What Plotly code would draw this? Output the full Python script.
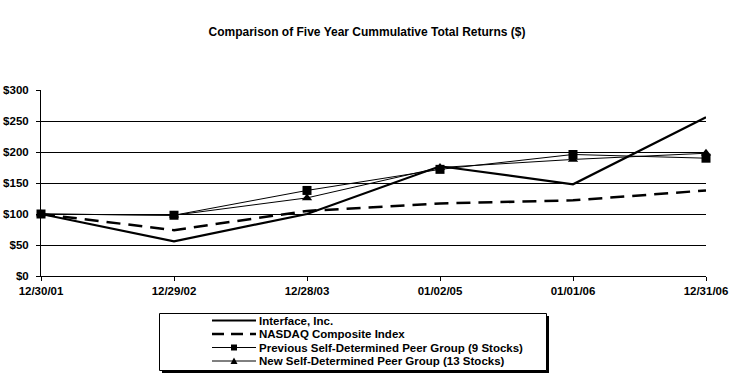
import plotly.graph_objects as go

dates = ["12/30/01", "12/29/02", "12/28/03", "01/02/05", "01/01/06", "12/31/06"]
interface = [100, 56, 100, 177, 148, 256]
nasdaq = [100, 74, 105, 117, 122, 138]
peer9 = [100, 98, 138, 172, 196, 190]
peer13 = [100, 98, 126, 175, 188, 198]
series_names = [
    "Interface, Inc.",
    "NASDAQ Composite Index",
    "Previous Self-Determined Peer Group (9 Stocks)",
    "New Self-Determined Peer Group (13 Stocks)",
]
y_ticks = [0, 50, 100, 150, 200, 250, 300]

W, H = 734, 383
L, R, T, B = 41, 706, 90, 276
FONT = "Liberation Sans, Arial, sans-serif"

fig = go.Figure()
fig.add_trace(go.Scatter(x=dates, y=nasdaq, mode="lines", name=series_names[1],
                         line=dict(color="black", width=2.5, dash="14px,8px"), cliponaxis=False))
fig.add_trace(go.Scatter(x=dates, y=peer9, mode="lines+markers", name=series_names[2],
                         line=dict(color="black", width=1),
                         marker=dict(symbol="square", size=9, color="black"), cliponaxis=False))
fig.add_trace(go.Scatter(x=dates, y=peer13, mode="lines+markers", name=series_names[3],
                         line=dict(color="black", width=1),
                         marker=dict(symbol="triangle-up", size=9, color="black"), cliponaxis=False))
fig.add_trace(go.Scatter(x=dates, y=interface, mode="lines", name=series_names[0],
                         line=dict(color="black", width=2.2), cliponaxis=False))


def px(x):
    return (x - L) / (R - L)


def py(y):
    return (B - y) / (B - T)


shapes = []
annotations = []
# legend shadow and box
shapes.append(dict(type="rect", xref="paper", yref="paper", x0=px(162), x1=px(549), y0=py(316), y1=py(373),
                   fillcolor="black", line=dict(width=0), layer="above"))
shapes.append(dict(type="rect", xref="paper", yref="paper", x0=px(159.5), x1=px(546.5), y0=py(313.5), y1=py(370.5),
                   fillcolor="white", line=dict(color="black", width=1), layer="above"))
rows = [320.5, 334, 347.5, 361]
x0s, x1s = 212, 256
for i, (name, yy) in enumerate(zip(series_names, rows)):
    if i == 1:
        shapes.append(dict(type="line", xref="paper", yref="paper", x0=px(x0s), x1=px(x1s), y0=py(yy), y1=py(yy),
                           line=dict(color="black", width=2.5, dash="12px,7px"), layer="above"))
    else:
        shapes.append(dict(type="line", xref="paper", yref="paper", x0=px(x0s), x1=px(x1s), y0=py(yy), y1=py(yy),
                           line=dict(color="black", width=2 if i == 0 else 1), layer="above"))
    if i == 2:
        shapes.append(dict(type="rect", xref="paper", yref="paper", x0=px(231), x1=px(237), y0=py(yy - 3), y1=py(yy + 3),
                           fillcolor="black", line=dict(width=0), layer="above"))
    if i == 3:
        shapes.append(dict(type="path", xref="paper", yref="paper",
                           path=f"M {px(230.5)} {py(yy + 3)} L {px(237.5)} {py(yy + 3)} L {px(234)} {py(yy - 3.5)} Z",
                           fillcolor="black", line=dict(width=0), layer="above"))
    annotations.append(dict(text=f"<b>{name}</b>", xref="paper", yref="paper", x=px(256.5), y=py(yy),
                            xanchor="left", yanchor="middle", showarrow=False,
                            font=dict(family=FONT, size=11.5, color="black")))

fig.update_layout(
    width=W, height=H, autosize=False,
    margin=dict(l=L, r=W - R, t=T, b=H - B, pad=0, autoexpand=False),
    paper_bgcolor="white", plot_bgcolor="white",
    showlegend=False,
    title=dict(text="<b>Comparison of Five Year Cummulative Total Returns ($)</b>",
               x=(367) / W, xanchor="center", y=1 - 32 / H, yanchor="middle",
               font=dict(family=FONT, size=12, color="black")),
    xaxis=dict(type="category", range=[0, 5], showgrid=False, showline=True, linecolor="black", linewidth=1,
               ticks="outside", ticklen=4, tickcolor="black", tickwidth=1, automargin=False,
               tickfont=dict(family=FONT, size=11.5, color="black"), zeroline=False),
    yaxis=dict(range=[0, 300], showgrid=True, gridcolor="black", gridwidth=1, automargin=False,
               showline=True, linecolor="black", linewidth=1, ticks="outside", ticklen=4, tickcolor="black",
               ticklabelstandoff=5,
               tickfont=dict(family=FONT, size=11.5, color="black"), zeroline=False),
    shapes=shapes, annotations=annotations,
)
fig.update_xaxes(tickvals=dates, ticktext=[f"<b>{d}</b>" for d in dates])
fig.update_yaxes(tickvals=y_ticks, ticktext=[f"<b>${v}</b>" for v in y_ticks])

fig.write_html("out.html", config={"displayModeBar": False},
               post_script="document.body.style.margin='0';document.body.style.padding='0';")
